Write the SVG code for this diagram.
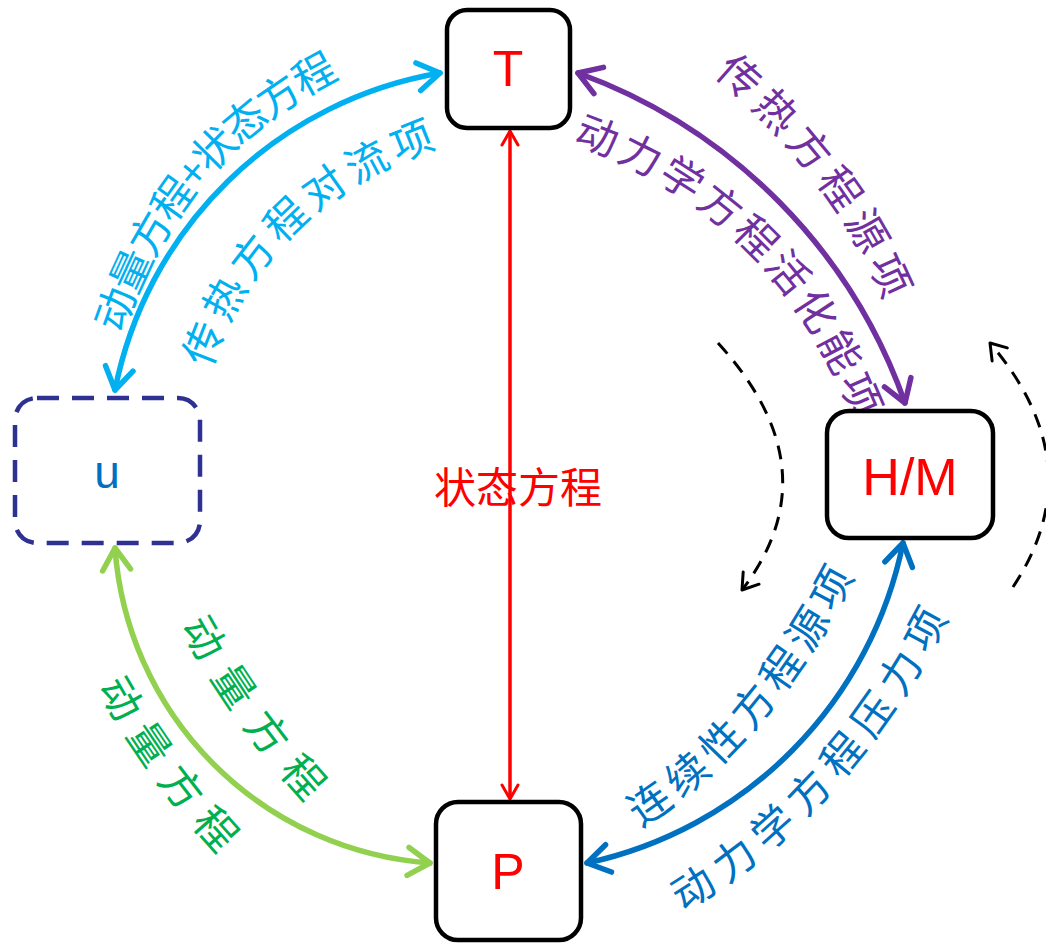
<svg xmlns="http://www.w3.org/2000/svg" width="1046" height="943" viewBox="0 0 1046 943">
<style>
.node{fill:#fff;stroke:#000;stroke-width:4.5}
.nlabel{font-family:"Liberation Sans",Arial,sans-serif;fill:#ff0000;text-anchor:middle}
.lbl{font-family:"Noto Sans CJK SC","Noto Sans",sans-serif;font-size:42px;dominant-baseline:central}
.arc{fill:none;stroke-width:5.5;stroke-linecap:round}
.dash{fill:none;stroke:#000;stroke-width:3;stroke-dasharray:14 10}
</style>
<defs>
<marker id="mCyan" markerUnits="userSpaceOnUse" orient="auto-start-reverse" overflow="visible" refX="0" refY="0"><path d="M-22,-14 L0,0 L-22,14" fill="none" stroke="#00B0F0" stroke-width="5.5" stroke-linecap="round" stroke-linejoin="round"/></marker>
<marker id="mPurple" markerUnits="userSpaceOnUse" orient="auto-start-reverse" overflow="visible" refX="0" refY="0"><path d="M-22,-14 L0,0 L-22,14" fill="none" stroke="#7030A0" stroke-width="5.5" stroke-linecap="round" stroke-linejoin="round"/></marker>
<marker id="mGreen" markerUnits="userSpaceOnUse" orient="auto-start-reverse" overflow="visible" refX="0" refY="0"><path d="M-22,-14 L0,0 L-22,14" fill="none" stroke="#92D050" stroke-width="5.5" stroke-linecap="round" stroke-linejoin="round"/></marker>
<marker id="mBlue" markerUnits="userSpaceOnUse" orient="auto-start-reverse" overflow="visible" refX="0" refY="0"><path d="M-22,-14 L0,0 L-22,14" fill="none" stroke="#0070C0" stroke-width="5.5" stroke-linecap="round" stroke-linejoin="round"/></marker>
<marker id="mRed" markerUnits="userSpaceOnUse" orient="auto-start-reverse" overflow="visible" refX="0" refY="0"><path d="M-14,-8 L0,0 L-14,8" fill="none" stroke="#ff0000" stroke-width="3" stroke-linecap="round" stroke-linejoin="round"/></marker>
<marker id="mBlack" markerUnits="userSpaceOnUse" orient="auto-start-reverse" overflow="visible" refX="0" refY="0"><path d="M-15,-10 L0,0 L-15,10" fill="none" stroke="#000" stroke-width="3" stroke-dasharray="none" stroke-linecap="round" stroke-linejoin="round"/></marker>
<path id="tpC1" d="M105,328 Q163,145 329,62"/>
<path id="tpC2" d="M193,362 Q248,194 430,130"/>
<path id="tpP1" d="M726,60 Q846,160 901,291"/>
<path id="tpP2" d="M579,125 Q788,197 872,412"/>
<path id="tpG1" d="M197,617 Q249,713 320,790"/>
<path id="tpG2" d="M114,678 Q162,766 233,842"/>
<path id="tpB1" d="M630,812 Q752,735 837,569"/>
<path id="tpB2" d="M673,896 Q834,801 931,610"/>
</defs>
<rect width="1046" height="943" fill="#fff"/>
<g id="labels">
<text class="lbl" fill="#00B0F0"><textPath href="#tpC1" textLength="360" lengthAdjust="spacing">动量方程+状态方程</textPath></text>
<text class="lbl" fill="#00B0F0"><textPath href="#tpC2" textLength="345" lengthAdjust="spacing">传热方程对流项</textPath></text>
<text class="lbl" fill="#7030A0"><textPath href="#tpP1" textLength="295" lengthAdjust="spacing">传热方程源项</textPath></text>
<text class="lbl" fill="#7030A0"><textPath href="#tpP2" textLength="425" lengthAdjust="spacing">动力学方程活化能项</textPath></text>
<text class="lbl" fill="#00B050"><textPath href="#tpG1" textLength="213" lengthAdjust="spacing">动量方程</textPath></text>
<text class="lbl" fill="#00B050"><textPath href="#tpG2" textLength="203" lengthAdjust="spacing">动量方程</textPath></text>
<text class="lbl" fill="#0070C0"><textPath href="#tpB1" textLength="325" lengthAdjust="spacing">连续性方程源项</textPath></text>
<text class="lbl" fill="#0070C0"><textPath href="#tpB2" textLength="392" lengthAdjust="spacing">动力学方程压力项</textPath></text>
<text x="518" y="503" fill="#ff0000" font-family="Noto Sans CJK SC, sans-serif" font-size="42" text-anchor="middle">状态方程</text>
</g>
<g id="connectors">
<path class="arc" stroke="#00B0F0" d="M440,73 A400,400 0 0 0 115,390" marker-start="url(#mCyan)" marker-end="url(#mCyan)"/>
<path class="arc" stroke="#7030A0" d="M578,73 A543,543 0 0 1 905,403" marker-start="url(#mPurple)" marker-end="url(#mPurple)"/>
<path class="arc" stroke="#92D050" d="M115,548 A340,340 0 0 0 430,863" marker-start="url(#mGreen)" marker-end="url(#mGreen)"/>
<path class="arc" stroke="#0070C0" d="M903,543 A411,411 0 0 1 587,863" marker-start="url(#mBlue)" marker-end="url(#mBlue)"/>
<path fill="none" stroke="#ff0000" stroke-width="3.5" d="M510,131 L510,799" marker-start="url(#mRed)" marker-end="url(#mRed)"/>
<path class="dash" d="M718,343 Q834,470 742,590" marker-end="url(#mBlack)"/>
<path class="dash" d="M1013,587 Q1094,465 990,343" marker-end="url(#mBlack)"/>
</g>
<g id="node-T">
<rect class="node" x="447" y="10" width="123" height="118" rx="20"/>
<text class="nlabel" x="508" y="86" font-size="50">T</text>
</g>
<g id="node-u">
<rect x="15" y="398" width="185" height="145" rx="22" fill="#fff" stroke="#2E3192" stroke-width="4.5" stroke-dasharray="22 13"/>
<text x="107" y="488" font-family="Liberation Sans, Arial, sans-serif" font-size="46" fill="#0070C0" text-anchor="middle">u</text>
</g>
<g id="node-HM">
<rect class="node" x="827" y="411" width="166" height="127" rx="22"/>
<text class="nlabel" x="910" y="495" font-size="52">H/M</text>
</g>
<g id="node-P">
<rect class="node" x="436" y="802" width="145" height="138" rx="22"/>
<text class="nlabel" x="508" y="889" font-size="50">P</text>
</g>
</svg>
